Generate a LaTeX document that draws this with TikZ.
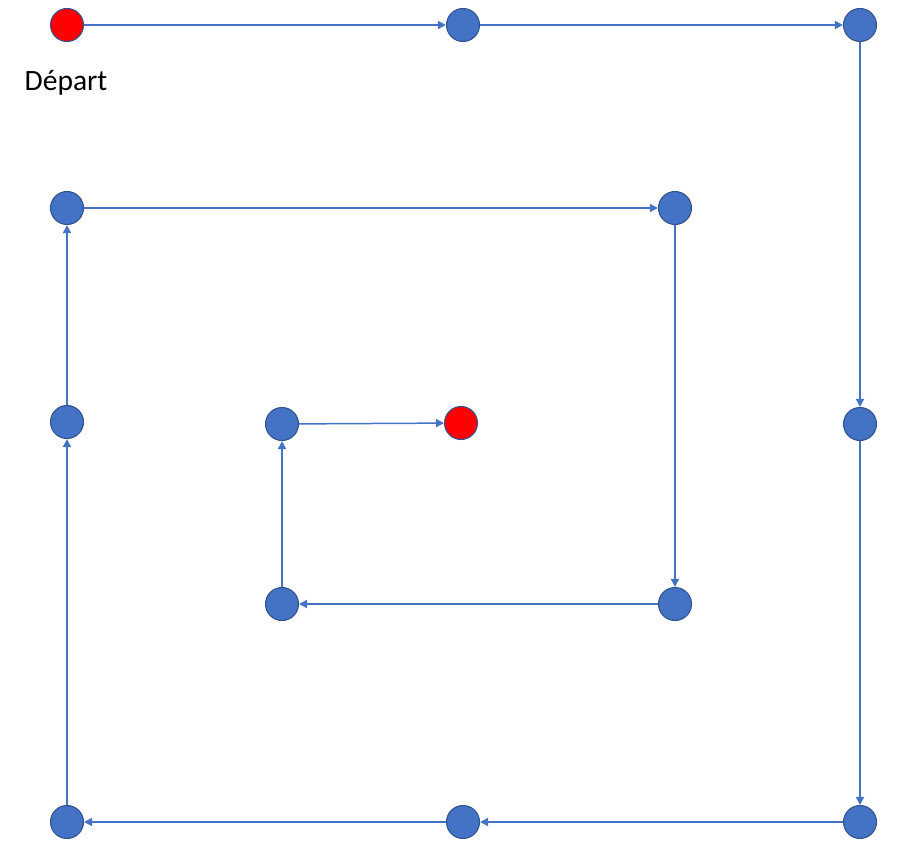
\documentclass[tikz,border=0pt]{standalone}
\usepackage{fontspec}
\setmainfont{Carlito}
\usetikzlibrary{arrows.meta}
\definecolor{ptblue}{HTML}{4472C4}
\definecolor{ptedge}{HTML}{2F528F}
\definecolor{ptred}{HTML}{FF0000}

\begin{document}
\begin{tikzpicture}[x=0.02cm, y=-0.02cm,
        pt/.style={circle, draw=ptedge, line width=0.6pt, fill=ptblue, minimum size=0.66cm, inner sep=0pt},
        ptend/.style={pt, fill=ptred},
        link/.style={draw=ptblue, line width=0.85pt, -{Triangle[length=4.6pt, width=4.6pt]}}]
        \useasboundingbox (0, 0) rectangle (899, 868);
        \node[ptend] (p1) at (67, 25) {};
        \node[pt] (p2) at (463, 25) {};
        \node[pt] (p3) at (860, 25) {};
        \node[pt] (p4) at (860, 424) {};
        \node[pt] (p5) at (860, 822) {};
        \node[pt] (p6) at (463, 822) {};
        \node[pt] (p7) at (67, 822) {};
        \node[pt] (p8) at (67, 422) {};
        \node[pt] (p9) at (67, 208) {};
        \node[pt] (p10) at (675, 208) {};
        \node[pt] (p11) at (675, 604) {};
        \node[pt] (p12) at (282, 604) {};
        \node[pt] (p13) at (282, 424) {};
        \node[ptend] (p14) at (461, 423) {};
        \node[font = {\fontsize{16.8pt}{20pt}\selectfont}, black] (depart) at (66, 83) {Départ};
        \draw[link] (p1) -- (p2);
        \draw[link] (p2) -- (p3);
        \draw[link] (p3) -- (p4);
        \draw[link] (p4) -- (p5);
        \draw[link] (p5) -- (p6);
        \draw[link] (p6) -- (p7);
        \draw[link] (p7) -- (p8);
        \draw[link] (p8) -- (p9);
        \draw[link] (p9) -- (p10);
        \draw[link] (p10) -- (p11);
        \draw[link] (p11) -- (p12);
        \draw[link] (p12) -- (p13);
        \draw[link] (p13) -- (p14);
    \end{tikzpicture}
\end{document}
